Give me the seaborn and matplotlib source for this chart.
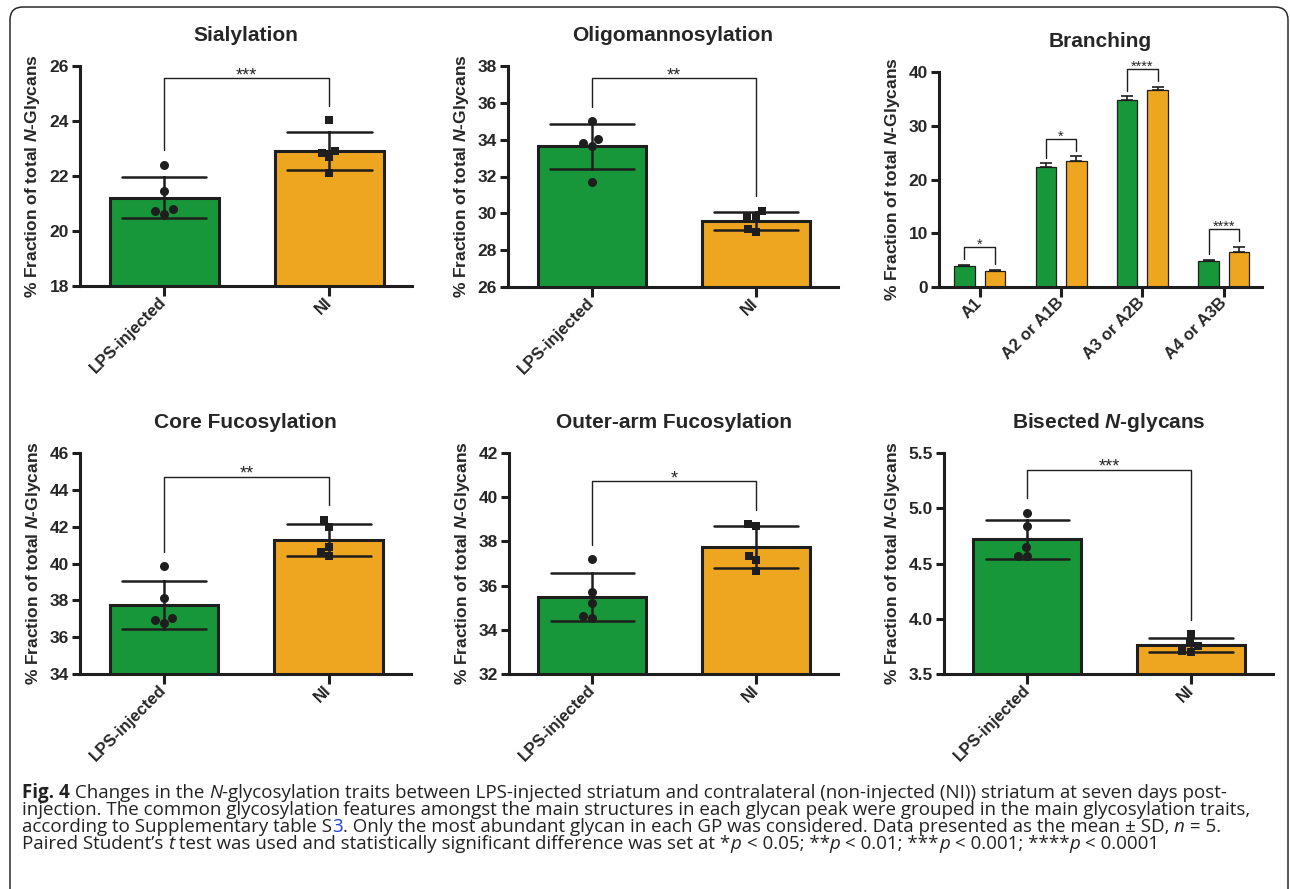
import matplotlib
matplotlib.use('Agg')
import matplotlib.pyplot as plt
import numpy as np
import pandas as pd
import seaborn as sns
from matplotlib.patches import FancyBboxPatch

# groups compared in every two-bar panel
groups = ['LPS-injected', 'NI']

# individual animals (n = 5), % fraction of total N-glycans
sialylation_lps = [22.41, 21.47, 20.79, 20.63, 20.74]
sialylation_ni = [24.02, 22.85, 22.70, 22.92, 22.11]
oligomannosylation_lps = [35.01, 33.83, 33.65, 34.01, 31.69]
oligomannosylation_ni = [29.86, 29.82, 30.15, 28.99, 29.14]
core_fuc_lps = [39.87, 38.13, 37.06, 36.79, 36.92]
core_fuc_ni = [42.37, 41.99, 40.91, 40.42, 40.65]
outer_fuc_lps = [37.20, 35.73, 35.22, 34.64, 34.52]
outer_fuc_ni = [38.71, 38.77, 37.35, 37.14, 36.68]
bisected_lps = [4.96, 4.84, 4.65, 4.57, 4.57]
bisected_ni = [3.86, 3.75, 3.70, 3.71, 3.78]

# branching: mean and SD only
branching_cats = ['A1', 'A2 or A1B', 'A3 or A2B', 'A4 or A3B']
branching_lps_mean = [3.96, 22.3, 34.8, 4.75]
branching_lps_sd = [0.2, 0.7, 0.7, 0.35]
branching_ni_mean = [2.97, 23.4, 36.65, 6.6]
branching_ni_sd = [0.25, 0.9, 0.65, 0.9]
branching_sig = ['*', '*', '****', '****']

GREEN = '#18973a'
ORANGE = '#eea620'
INK = '#1e1e1e'

sns.set_style('ticks')
plt.rcParams['font.family'] = ['Liberation Sans', 'DejaVu Sans']
plt.rcParams['font.weight'] = 'bold'
plt.rcParams['axes.titleweight'] = 'bold'
plt.rcParams['axes.labelweight'] = 'bold'
plt.rcParams['mathtext.fontset'] = 'custom'
plt.rcParams['mathtext.rm'] = 'Liberation Sans:bold'
plt.rcParams['mathtext.it'] = 'Liberation Sans:italic:bold'
plt.rcParams['mathtext.bf'] = 'Liberation Sans:bold'
plt.rcParams['mathtext.bfit'] = 'Liberation Sans:italic:bold'

W, H = 1290, 889
fig = plt.figure(figsize=(W / 100, H / 100), dpi=100)

YLABEL = r'% Fraction of total $\mathbfit{N}$-Glycans'


def add_panel(l, r, t, b):
    return fig.add_axes([l / W, 1 - b / H, (r - l) / W, (b - t) / H])


def style_axes(ax, ylim, step, fmt):
    ax.set_ylim(*ylim)
    ax.set_yticks(np.arange(ylim[0], ylim[1] + step / 2, step))
    ax.set_yticklabels([fmt.format(v) for v in ax.get_yticks()])
    sns.despine(ax=ax)
    for s in ['left', 'bottom']:
        ax.spines[s].set_linewidth(2.2)
        ax.spines[s].set_color(INK)
    ax.tick_params(axis='y', width=2.2, length=6, labelsize=12.5, pad=2, color=INK)
    ax.tick_params(axis='x', width=2.2, length=7, labelsize=12, pad=3, color=INK)
    ax.set_xlabel('')
    ax.set_ylabel(YLABEL, fontsize=12.5, labelpad=5)
    for lab in ax.get_xticklabels():
        lab.set_rotation(45)
        lab.set_ha('right')
        lab.set_va('center')
        lab.set_rotation_mode('anchor')
        lab.set_fontweight('bold')


def bracket(ax, x1, x2, y1, y2, ytop, text, size):
    ax.plot([x1, x1, x2, x2], [y1, ytop, ytop, y2], color=INK, lw=1.0,
            clip_on=False, zorder=4)
    ax.annotate(text, xy=((x1 + x2) / 2, ytop), xytext=(0, -1.5),
                textcoords='offset points', ha='center', va='baseline',
                fontsize=size, fontweight='normal', annotation_clip=False)


def two_bar_panel(ax, title, lps, ni, ylim, step, stars, fmt='{:.0f}'):
    df = pd.DataFrame({'group': [groups[0]] * len(lps) + [groups[1]] * len(ni),
                       'value': lps + ni})
    sns.barplot(data=df, x='group', y='value', hue='group', order=groups,
                hue_order=groups, palette=[GREEN, ORANGE], saturation=1,
                errorbar='sd', capsize=0.51, width=0.66, edgecolor=INK,
                linewidth=2.2, err_kws={'color': INK, 'linewidth': 1.8},
                legend=False, ax=ax)
    sns.swarmplot(data=df[df.group == groups[0]], x='group', y='value',
                  order=groups, color=INK, marker='o', size=6.5, ax=ax, zorder=5)
    sns.swarmplot(data=df[df.group == groups[1]], x='group', y='value',
                  order=groups, color=INK, marker='s', size=6, ax=ax, zorder=5)
    ax.set_xlim(-0.51, 1.5)
    style_axes(ax, ylim, step, fmt)
    ax.set_title(title, fontsize=15, pad=18)
    rng = ylim[1] - ylim[0]
    y1 = max(lps) + 0.065 * rng
    y2 = max(ni) + 0.065 * rng
    ytop = min(max(y1, y2) + 0.13 * rng, ylim[1] - 0.055 * rng)
    bracket(ax, 0, 1, y1, y2, ytop, stars, 13)


ax1 = add_panel(80, 412, 66, 286)
two_bar_panel(ax1, 'Sialylation', sialylation_lps, sialylation_ni, (18, 26), 2, '***')

ax2 = add_panel(508, 838, 66, 287)
two_bar_panel(ax2, 'Oligomannosylation', oligomannosylation_lps,
              oligomannosylation_ni, (26, 38), 2, '**')

ax4 = add_panel(80, 411, 453, 674)
two_bar_panel(ax4, 'Core Fucosylation', core_fuc_lps, core_fuc_ni, (34, 46), 2, '**')

ax5 = add_panel(509, 838, 453, 674)
two_bar_panel(ax5, 'Outer-arm Fucosylation', outer_fuc_lps, outer_fuc_ni,
              (32, 42), 2, '*')

ax6 = add_panel(944, 1273, 453, 674)
two_bar_panel(ax6, r'Bisected $\mathbfit{N}$-glycans', bisected_lps, bisected_ni,
              (3.5, 5.5), 0.5, '***', fmt='{:.1f}')

# branching panel
ax3 = add_panel(939, 1262, 72, 287)
bdf = pd.DataFrame({
    'cat': branching_cats * 2,
    'group': [groups[0]] * 4 + [groups[1]] * 4,
    'mean': branching_lps_mean + branching_ni_mean,
})
sns.barplot(data=bdf, x='cat', y='mean', hue='group', order=branching_cats,
            hue_order=groups, palette=[GREEN, ORANGE], saturation=1,
            errorbar=None, width=0.75, gap=0.33, edgecolor=INK, linewidth=0.9,
            legend=False, ax=ax3)
sds = [branching_lps_sd, branching_ni_sd]
centers = []
tops = []
for cont, sd in zip(ax3.containers, sds):
    cx, ct = [], []
    for bar, s in zip(cont, sd):
        x = bar.get_x() + bar.get_width() / 2
        h = bar.get_height()
        ax3.errorbar(x, h, yerr=[[0], [s]], color=INK, lw=1.2, capsize=4,
                     capthick=1.2, zorder=3)
        cx.append(x)
        ct.append(h + s)
    centers.append(cx)
    tops.append(ct)
ax3.set_xlim(-0.5, 3.47)
style_axes(ax3, (0, 40), 10, '{:.0f}')
ax3.set_title('Branching', fontsize=15, pad=18)
for i, stars in enumerate(branching_sig):
    y1 = tops[0][i] + 1.0
    y2 = tops[1][i] + 1.0
    ytop = max(tops[0][i], tops[1][i]) + 3.3
    bracket(ax3, centers[0][i], centers[1][i], y1, y2, ytop, stars, 10.5)

# rounded frame (bottom edge runs off the canvas)
frame = FancyBboxPatch((0.10, -0.2), 12.78, 9.02,
                       boxstyle='round,pad=0,rounding_size=0.13',
                       transform=fig.dpi_scale_trans, fill=False,
                       edgecolor='#2a2a2a', linewidth=1.1)
fig.add_artist(frame)

# caption, drawn run by run so bold / italic / link pieces sit inline
CAP_FONT = ['Open Sans', 'DejaVu Sans']
renderer = fig.canvas.get_renderer()
STYLES = {
    'normal': dict(fontweight='normal', fontstyle='normal', color='#222222'),
    'bold': dict(fontweight='bold', fontstyle='normal', color='#222222'),
    'italic': dict(fontweight='normal', fontstyle='italic', color='#222222'),
    'link': dict(fontweight='normal', fontstyle='normal', color='#2040d0'),
}


def run_width(txt, style, size):
    a = fig.text(0, 0, '|' + txt + '|', family=CAP_FONT, fontsize=size, **STYLES[style])
    b = fig.text(0, 0, '||', family=CAP_FONT, fontsize=size, **STYLES[style])
    w = a.get_window_extent(renderer).width - b.get_window_extent(renderer).width
    a.remove()
    b.remove()
    return w


def draw_line(runs, x_px, base_px, size):
    x = x_px
    for txt, style in runs:
        fig.text(x / W, 1 - base_px / H, txt, family=CAP_FONT, fontsize=size,
                 ha='left', va='baseline', **STYLES[style])
        x += run_width(txt, style, size)


caption = [
    [('Fig. 4', 'bold'), (' Changes in the ', 'normal'), ('N', 'italic'),
     ('-glycosylation traits between LPS-injected striatum and contralateral '
      '(non-injected (NI)) striatum at seven days post-', 'normal')],
    [('injection. The common glycosylation features amongst the main structures '
      'in each glycan peak were grouped in the main glycosylation traits,', 'normal')],
    [('according to Supplementary table S', 'normal'), ('3', 'link'),
     ('. Only the most abundant glycan in each GP was considered. Data presented '
      'as the mean \u00b1 SD, ', 'normal'), ('n', 'italic'), (' = 5.', 'normal')],
    [('Paired Student\u2019s ', 'normal'), ('t', 'italic'),
     (' test was used and statistically significant difference was set at *', 'normal'),
     ('p', 'italic'), (' < 0.05; **', 'normal'), ('p', 'italic'),
     (' < 0.01; ***', 'normal'), ('p', 'italic'), (' < 0.001; ****', 'normal'),
     ('p', 'italic'), (' < 0.0001', 'normal')],
]

w10 = sum(run_width(t, s, 10) for t, s in caption[1])
cap_size = 10 * (1252 - 22) / w10
for line, base in zip(caption, [798, 815, 832, 849]):
    draw_line(line, 22, base, cap_size)

fig.savefig('out.png', dpi=100)
